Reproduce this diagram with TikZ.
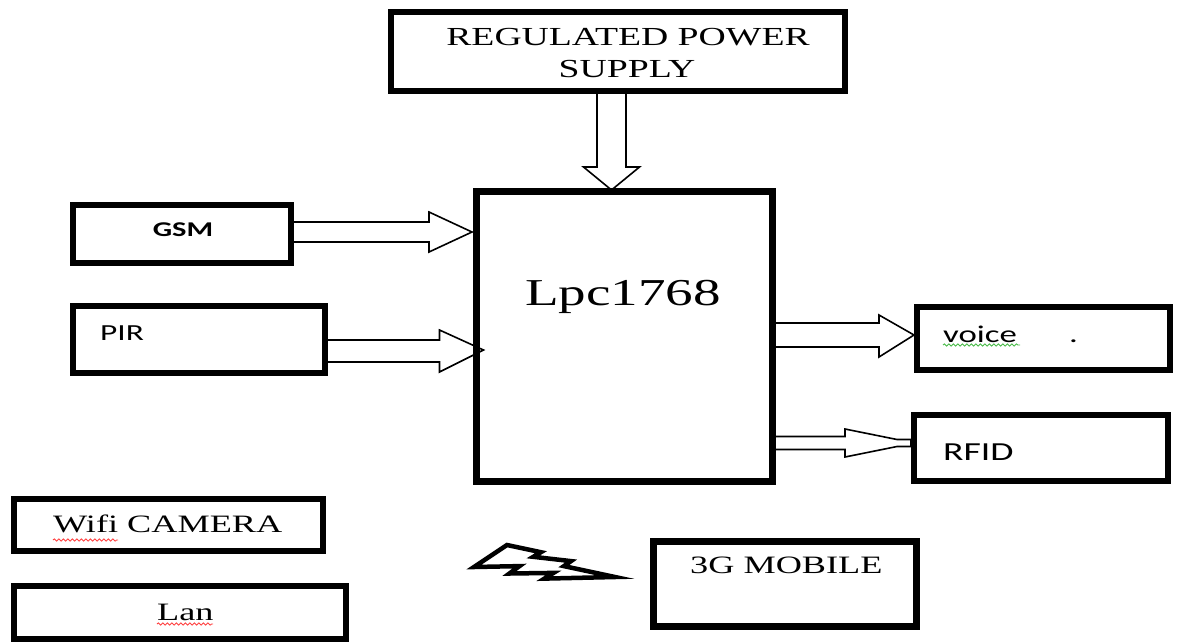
\documentclass[tikz,border=0pt]{standalone}
\usepackage{fontspec}
\setmainfont{Liberation Serif}
\newfontfamily\calfont{Carlito}
\usepackage{graphicx}
\usetikzlibrary{calc,decorations.pathmorphing,backgrounds}
\newcommand\sx[1]{\scalebox{1.45}[1]{#1}}
\begin{document}
\begin{tikzpicture}[x=1pt,y=-1pt,
  box/.style={draw=black, line width=6pt, inner sep=0pt},
  bigbox/.style={draw=black, line width=7pt, inner sep=0pt},
  blockarr/.style={draw=black, line width=1.6pt, fill=white, line join=miter},
  bolt/.style={draw=black, line width=4.5pt, fill=white, line join=miter},
  serif/.style={inner sep=0pt, font=\fontsize{25}{30}\selectfont},
  sans/.style={inner sep=0pt},
  squig/.style={decorate, decoration={snake, amplitude=1.1pt, segment length=4.5pt}, line width=0.9pt}
]
\useasboundingbox (0,0) rectangle (1177,641);

% boxes
\node[box, minimum width=454pt, minimum height=79pt] (rps) at (618,51.5) {};
\node[box, minimum width=218pt, minimum height=58pt] (gsm) at (182,234) {};
\node[box, minimum width=252pt, minimum height=67pt] (pir) at (199,339.5) {};
\node[bigbox, minimum width=296pt, minimum height=290pt] (lpc) at (624.5,336.5) {};
\node[box, minimum width=253pt, minimum height=63pt] (voice) at (1043.5,338.5) {};
\node[box, minimum width=254pt, minimum height=66pt] (rfid) at (1041,448) {};
\node[box, minimum width=309pt, minimum height=52pt] (wifi) at (168.5,525) {};
\node[box, minimum width=332pt, minimum height=53pt] (lan) at (180,612) {};
\node[box, line width=7pt, minimum width=263pt, minimum height=85pt] (mobile) at (784.5,583.5) {};

\begin{scope}[on background layer]
% power supply -> controller
\coordinate (p0) at ($(rps.south)+(-6.5,0)$);
\coordinate (p1) at ($(p0 |- 0,190)$);
\draw[blockarr] ($(p0)+(-14.5,0)$) -- ($(p1)+(-14.5,-23)$) -- ($(p1)+(-28,-23)$) -- (p1)
  -- ($(p1)+(28,-23)$) -- ($(p1)+(14.5,-23)$) -- ($(p0)+(14.5,0)$);

% GSM -> controller
\coordinate (g0) at ($(gsm.east)+(0,-2)$);
\coordinate (g1) at ($(g0 -| lpc.west)+(-1,0)$);
\draw[blockarr] ($(g0)+(0,-10)$) -- ($(g1)+(-43,-10)$) -- ($(g1)+(-43,-20)$) -- (g1)
  -- ($(g1)+(-43,20)$) -- ($(g1)+(-43,10)$) -- ($(g0)+(0,10)$);

% PIR -> controller
\coordinate (q0) at ($(pir.east)+(0,11.5)$);
\coordinate (q1) at ($(q0 -| lpc.west)+(10.5,-1)$);
\draw[blockarr] ($(q0)+(0,-11)$) -- ($(q1)+(-44,-10)$) -- ($(q1)+(-44,-20)$) -- (q1)
  -- ($(q1)+(-44,22)$) -- ($(q1)+(-44,12)$) -- ($(q0)+(0,11)$);

% controller -> voice
\coordinate (v1) at ($(voice.west)+(0,-3.5)$);
\coordinate (v0) at (v1 -| lpc.east);
\draw[blockarr] ($(v0)+(0,-12)$) -- ($(v1)+(-35,-12)$) -- ($(v1)+(-35,-20)$) -- (v1)
  -- ($(v1)+(-35,22)$) -- ($(v1)+(-35,12)$) -- ($(v0)+(0,12)$);

% controller -> RFID
\coordinate (r1) at ($(rfid.west)+(0,-5)$);
\coordinate (r0) at (r1 -| lpc.east);
\draw[blockarr] ($(r0)+(0,-6.5)$) -- ($(r1)+(-66,-6.5)$) -- ($(r1)+(-66,-14)$) -- ($(r1)+(-14,-3.5)$)
  -- ($(r1)+(0,-3.5)$) -- ($(r1)+(0,3.5)$) -- ($(r1)+(-14,3.5)$) -- ($(r1)+(-66,14)$)
  -- ($(r1)+(-66,6.5)$) -- ($(r0)+(0,6.5)$);
\end{scope}

% wireless lightning symbol
\draw[bolt] (507.0,545.0) -- (540.9,552.2) -- (533.3,556.8) -- (571.0,561.1) -- (563.9,566.1)
  -- (615,577) -- (544.4,578.6) -- (553.5,572.9) -- (509.4,573.5) -- (519.5,566.1)
  -- (474,567) -- cycle;

% texts
\node[serif, anchor=base, font=\fontsize{26}{30}\selectfont] (rpsA) at (628,45) {\sx{REGULATED POWER}};
\node[serif, anchor=base, font=\fontsize{26}{30}\selectfont] (rpsB) at (627,77) {\sx{SUPPLY}};
\node[serif, anchor=base west, font=\fontsize{38}{44}\selectfont] (lpct) at (525,305) {\sx{Lpc1768}};
\node[sans, anchor=base, font=\calfont\bfseries\fontsize{21}{25}\selectfont] (gsmt) at (183,236.5) {\sx{GSM}};
\node[sans, anchor=base west, font=\calfont\fontsize{23}{27}\selectfont] (pirt) at (100,340) {\sx{PIR}};
\node[sans, anchor=base west, font=\calfont\fontsize{24}{28}\selectfont] (voicet) at (943,342) {\sx{voice\hspace{36pt}.}};
\node[sans, anchor=base west, font=\calfont\fontsize{26}{30}\selectfont] (rfidt) at (943,460) {\sx{RFID}};
\node[serif, anchor=base west] (wifit) at (53,532) {\sx{Wifi CAMERA}};
\node[serif, anchor=base west] (lant) at (157,620) {\sx{Lan}};
\node[serif, anchor=base west] (mobt) at (690,573) {\sx{3G MOBILE}};

% spell-check squiggles
\draw[squig, red!75] ($(wifit.base west)+(0,8)$) -- ++(65,0);
\draw[squig, red!75] ($(lant.base west)+(0,4)$) -- ++(56,0);
\draw[squig, green!45!gray] ($(voicet.base west)+(0,3)$) -- ++(77,0);
\end{tikzpicture}
\end{document}
